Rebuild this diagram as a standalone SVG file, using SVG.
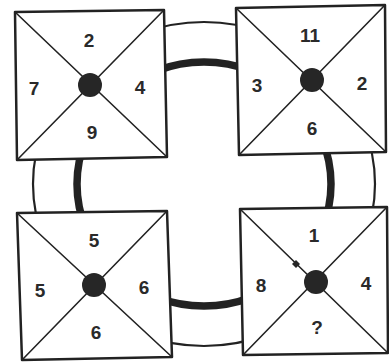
<svg xmlns="http://www.w3.org/2000/svg" width="389" height="362" viewBox="0 0 389 362">
<style>
.box{fill:#fff;stroke:#222;stroke-width:2.5;stroke-linejoin:round}
.diag{stroke:#222;stroke-width:1.6;fill:none}
.dot{fill:#262626}
.lbl{font-family:"Liberation Sans",Arial,sans-serif;font-weight:bold;font-size:19px;fill:#2a2a2a;text-anchor:middle;dominant-baseline:central}
</style>
<rect width="389" height="362" fill="#fff"/>
<g id="connectors">
<ellipse cx="204" cy="184" rx="171" ry="162" fill="none" stroke="#222" stroke-width="2.2"/>
<ellipse cx="204" cy="184" rx="127" ry="122" fill="none" stroke="#222" stroke-width="7.5"/>
</g>
<g id="box-tl">
<polygon class="box" points="15,12 164,10 167,157 17,160"/>
<path class="diag" d="M15,12 L167,157 M164,10 L17,160"/>
<circle class="dot" cx="90" cy="85" r="12"/>
<text class="lbl" x="89" y="40">2</text>
<text class="lbl" x="34" y="88">7</text>
<text class="lbl" x="140" y="87">4</text>
<text class="lbl" x="92" y="132">9</text>
</g>
<g id="box-tr">
<polygon class="box" points="236,8 385,5 386,152 239,155"/>
<path class="diag" d="M236,8 L386,152 M385,5 L239,155"/>
<circle class="dot" cx="312" cy="80" r="12"/>
<text class="lbl" x="310" y="35">11</text>
<text class="lbl" x="257" y="85">3</text>
<text class="lbl" x="362" y="83">2</text>
<text class="lbl" x="312" y="128">6</text>
</g>
<g id="box-bl">
<polygon class="box" points="17,213 167,211 172,357 22,360"/>
<path class="diag" d="M17,213 L172,357 M167,211 L22,360"/>
<circle class="dot" cx="94" cy="285" r="12"/>
<text class="lbl" x="94" y="240">5</text>
<text class="lbl" x="40" y="290">5</text>
<text class="lbl" x="144" y="287">6</text>
<text class="lbl" x="96" y="332">6</text>
</g>
<g id="box-br">
<polygon class="box" points="240,209 387,207 388,353 243,355"/>
<path class="diag" d="M240,209 L388,353 M387,207 L243,355"/>
<circle class="dot" cx="316" cy="282" r="12"/>
<polygon class="dot" points="292,264 296,260 300,264 296,268"/>
<text class="lbl" x="314" y="235">1</text>
<text class="lbl" x="261" y="285">8</text>
<text class="lbl" x="366" y="283">4</text>
<text class="lbl" x="317" y="327">?</text>
</g>
</svg>
